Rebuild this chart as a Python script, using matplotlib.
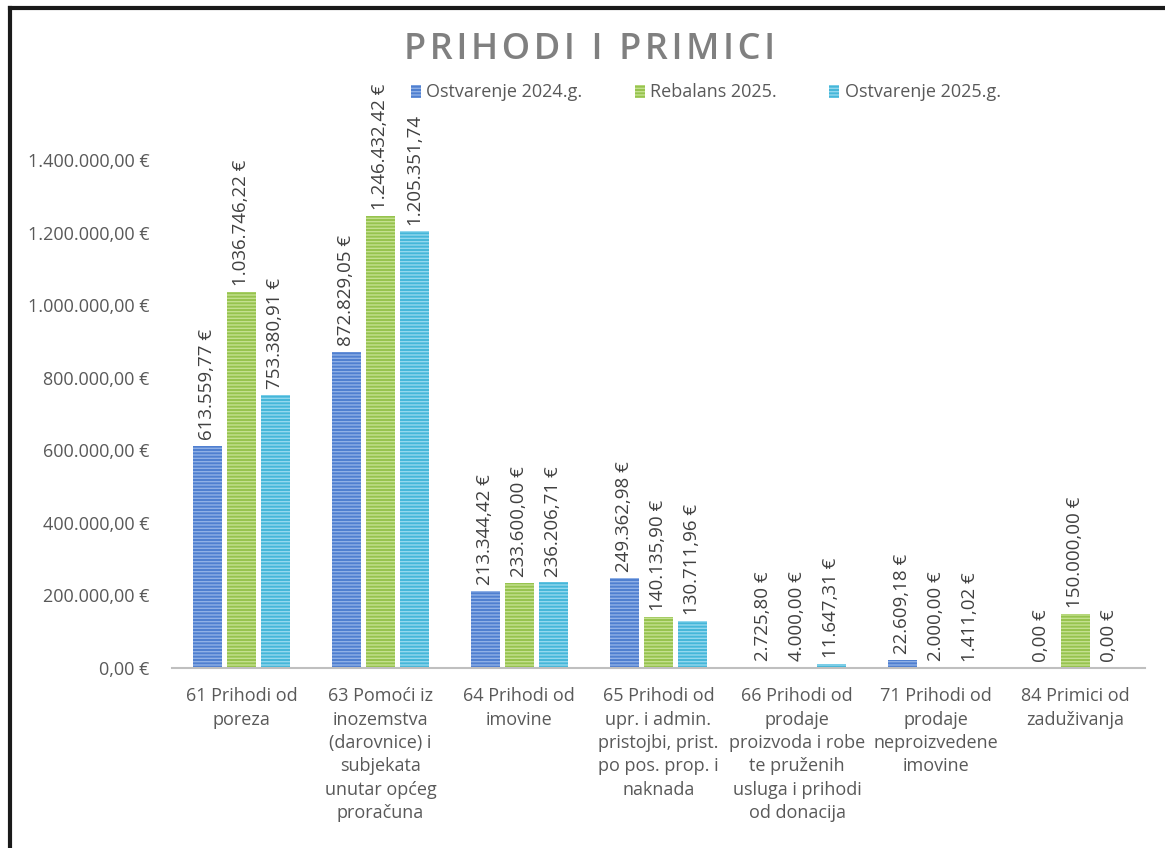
import matplotlib
matplotlib.use("Agg")
import matplotlib.pyplot as plt
import numpy as np

plt.rcParams['font.family'] = ['Open Sans', 'DejaVu Sans']
plt.rcParams['hatch.linewidth'] = 1.0

categories = ["61 Prihodi od\nporeza",
              "63 Pomoći iz\ninozemstva\n(darovnice) i\nsubjekata\nunutar općeg\nproračuna",
              "64 Prihodi od\nimovine",
              "65 Prihodi od\nupr. i admin.\npristojbi, prist.\npo pos. prop. i\nnaknada",
              "66 Prihodi od\nprodaje\nproizvoda i robe\nte pruženih\nusluga i prihodi\nod donacija",
              "71 Prihodi od\nprodaje\nneproizvedene\nimovine",
              "84 Primici od\nzaduživanja"]

series_names = ["Ostvarenje 2024.g.", "Rebalans 2025.", "Ostvarenje 2025.g."]
ostv_2024 = [613559.77, 872829.05, 213344.42, 249362.98, 2725.80, 22609.18, 0.00]
rebalans_2025 = [1036746.22, 1246432.42, 233600.00, 140135.90, 4000.00, 2000.00, 150000.00]
ostv_2025 = [753380.91, 1205351.74, 236206.71, 130711.96, 11647.31, 1411.02, 0.00]

# labels as printed on the chart (one lacks the euro sign)
labels_2024 = ["613.559,77 €", "872.829,05 €", "213.344,42 €", "249.362,98 €",
               "2.725,80 €", "22.609,18 €", "0,00 €"]
labels_reb = ["1.036.746,22 €", "1.246.432,42 €", "233.600,00 €", "140.135,90 €",
              "4.000,00 €", "2.000,00 €", "150.000,00 €"]
labels_2025 = ["753.380,91 €", "1.205.351,74", "236.206,71 €", "130.711,96 €",
               "11.647,31 €", "1.411,02 €", "0,00 €"]

yticks = [0, 200000, 400000, 600000, 800000, 1000000, 1200000, 1400000]
ytick_labels = ["0,00 €", "200.000,00 €", "400.000,00 €", "600.000,00 €",
                "800.000,00 €", "1.000.000,00 €", "1.200.000,00 €", "1.400.000,00 €"]

colors = ["#4f7fd0", "#96c34e", "#45b7d9"]
stripes = ["#8fb0e6", "#c4e08f", "#93d8ee"]
text_grey = "#595959"

fig = plt.figure(figsize=(11.65, 8.48), dpi=100)
ax = fig.add_axes([0.1476, 0.2123, 0.835, 0.684])

x = np.arange(len(categories))
w = 0.21
step = 0.245
all_series = [ostv_2024, rebalans_2025, ostv_2025]
all_labels = [labels_2024, labels_reb, labels_2025]
for i, (vals, labs) in enumerate(zip(all_series, all_labels)):
    pos = x + (i - 1) * step
    ax.bar(pos, vals, width=w, color=colors[i], edgecolor=stripes[i],
           hatch="-----", linewidth=0, label=series_names[i])
    for px, v, t in zip(pos, vals, labs):
        ax.text(px, v + 16000, t, rotation=90, ha="center", va="bottom",
                fontsize=13.5, color="#404040")

ax.set_xlim(-0.5, len(categories) - 0.5)
ax.set_ylim(0, 1600000)
ax.set_yticks(yticks)
ax.set_yticklabels(ytick_labels, fontsize=13, color=text_grey)
ax.set_xticks(x)
ax.set_xticklabels(categories, fontsize=13, color=text_grey, linespacing=1.38)
ax.tick_params(axis="x", length=0, pad=14)
ax.tick_params(axis="y", length=0, pad=16)
for s in ["top", "right", "left"]:
    ax.spines[s].set_visible(False)
ax.spines["bottom"].set_color("#bfbfbf")
ax.spines["bottom"].set_linewidth(1.5)

# letter-spaced title
title = "\u200a".join("PRIHODI I PRIMICI")
fig.text(0.506, 0.941, title, ha="center", va="center",
         fontsize=26, fontweight="semibold", color="#808080")

fig.legend(loc="center", bbox_to_anchor=(0.606, 0.891), ncol=3, frameon=False,
           fontsize=13, handlelength=0.55, handleheight=0.75, handletextpad=0.3,
           columnspacing=2.9, labelcolor=text_grey)

# outer frame (only left and top are visible in the crop)
fig.add_artist(plt.Line2D([0.0082, 0.0082], [0, 0.991], color="#1a1a1a", linewidth=3,
                          transform=fig.transFigure))
fig.add_artist(plt.Line2D([0.0082, 1.0], [0.991, 0.991], color="#1a1a1a", linewidth=3,
                          transform=fig.transFigure))

fig.savefig("out.png", dpi=100)
